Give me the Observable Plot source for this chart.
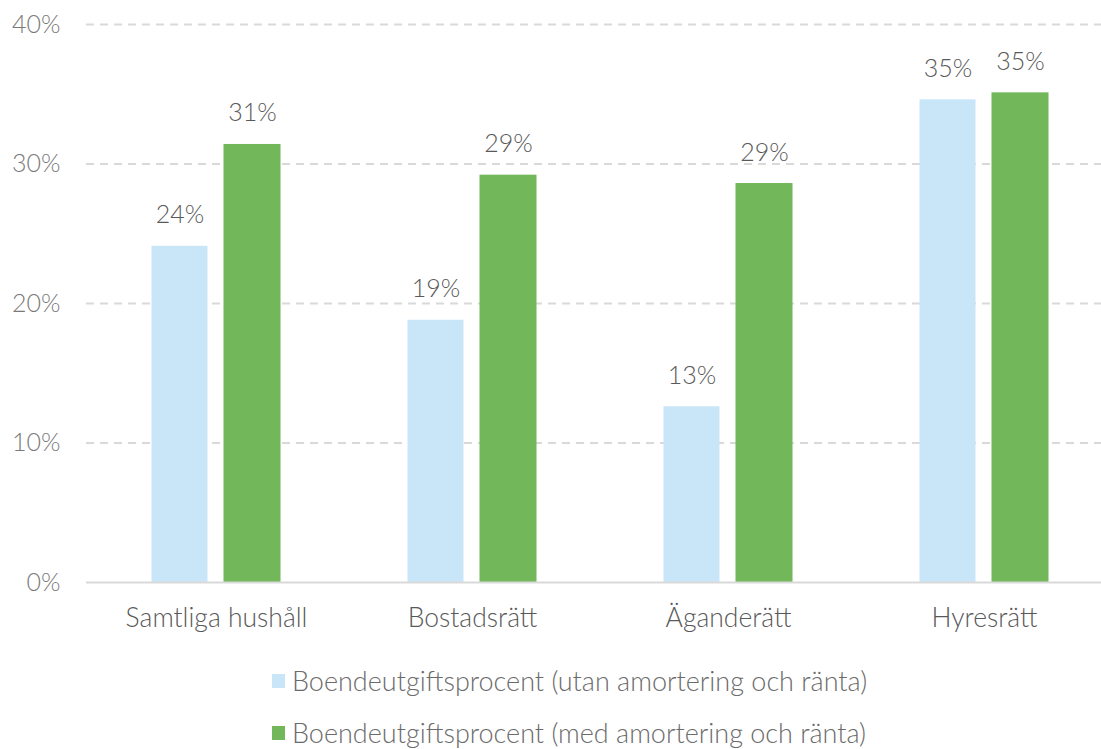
<!DOCTYPE html>
<html>
<head>
<meta charset="utf-8">
<script src="https://cdn.jsdelivr.net/npm/d3@7"></script>
<script src="https://cdn.jsdelivr.net/npm/@observablehq/plot@0.6"></script>
<style>
  body { margin: 0; background: #fff; font-family: Lato, "Open Sans", sans-serif; }
  #chart svg { display: block; }
  .legend { position: relative; height: 99px; }
  .legend .row { position: absolute; left: 272px; display: flex; align-items: center; font-size: 27px; font-weight: 300; color: #6b6b6b; }
  .legend .sw { width: 13px; height: 14px; margin-right: 7px; }
</style>
</head>
<body>
<div id="chart"></div>
<div class="legend" id="legend"></div>
<script>
const categories = ["Samtliga hushåll", "Bostadsrätt", "Äganderätt", "Hyresrätt"];
const seriesNames = ["Boendeutgiftsprocent (utan amortering och ränta)", "Boendeutgiftsprocent (med amortering och ränta)"];
const utanValues = [24.1, 18.8, 12.6, 34.6];
const medValues = [31.4, 29.2, 28.6, 35.1];
const yTicks = [0, 10, 20, 30, 40];
const colors = ["#C9E6F9", "#72B85A"];

const utan = categories.map((c, i) => ({cat: c, value: utanValues[i]}));
const med = categories.map((c, i) => ({cat: c, value: medValues[i]}));
const fmt = d => Math.round(d.value) + "%";

const chart = Plot.plot({
  width: 1101,
  height: 650,
  marginLeft: 86,
  marginRight: 0,
  marginTop: 24,
  marginBottom: 68,
  style: {fontFamily: "Lato, 'Open Sans', sans-serif", fontSize: "25px", fontWeight: 300, background: "#fff"},
  x: {domain: categories, range: [86.5, 1113.5], padding: 0, label: null},
  y: {domain: [0, 40], label: null},
  marks: [
    Plot.ruleY(yTicks.filter(t => t > 0), {stroke: "#D9D9D9", strokeWidth: 2, strokeDasharray: "8,6"}),
    Plot.barY(utan, {x: "cat", y: "value", fill: colors[0], insetLeft: 63.5, insetRight: 136.5}),
    Plot.barY(med, {x: "cat", y: "value", fill: colors[1], insetLeft: 135.5, insetRight: 63.5}),
    Plot.ruleY([0], {stroke: "#D9D9D9", strokeWidth: 2}),
    Plot.text(utan, {x: "cat", y: "value", text: fmt, dx: -36.5, dy: -31, fill: "#595959", fontSize: 25}),
    Plot.text(med, {x: "cat", y: "value", text: fmt, dx: 36, dy: -31, fill: "#595959", fontSize: 25}),
    Plot.axisY(yTicks, {tickSize: 0, tickPadding: 26, tickFormat: d => d + "%", color: "#7a7a7a", fontSize: 25}),
    Plot.axisX({tickSize: 0, tickPadding: 26, color: "#595959", fontSize: 26.5, label: null})
  ]
});
document.getElementById("chart").appendChild(chart);

const legend = document.getElementById("legend");
seriesNames.forEach((name, i) => {
  const row = document.createElement("div");
  row.className = "row";
  row.style.top = (i === 0 ? 14 : 66) + "px";
  const sw = document.createElement("span");
  sw.className = "sw";
  sw.style.background = colors[i];
  const t = document.createElement("span");
  t.textContent = name;
  row.appendChild(sw);
  row.appendChild(t);
  legend.appendChild(row);
});
</script>
</body>
</html>
